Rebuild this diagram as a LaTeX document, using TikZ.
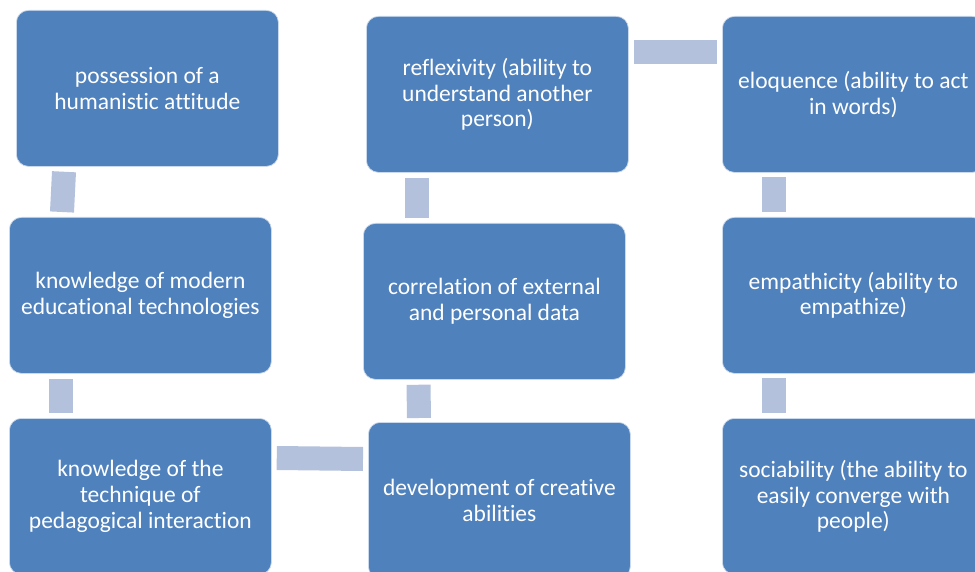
\documentclass[tikz,border=0pt]{standalone}
\usepackage{fontspec}
\setmainfont{Carlito}[Ligatures={NoCommon,NoRare}]
\definecolor{boxblue}{HTML}{4F81BD}
\definecolor{barblue}{HTML}{B3C1DC}
\begin{document}
\begin{tikzpicture}[x=1bp,y=-1bp,
	skill/.style={rectangle,rounded corners=12bp,fill=boxblue,draw=white!70!boxblue,line width=0.75bp,
		text=white,anchor=north west,minimum width=262bp,minimum height=156bp,inner sep=0pt,
		align=center,font=\fontsize{23.5bp}{25.6bp}\selectfont},
	link/.style={draw=barblue,line width=24bp}]%KỸ NĂNG
			\useasboundingbox (0,0) rectangle (975,572);
			\clip (0,0) rectangle (975,572);
			\node[skill] (A) at (16,10) {possession of a\\humanistic attitude};
			\node[skill] (B) at (9,217) {knowledge of modern\\educational technologies};
			\node[skill] (C) at (9,418) {knowledge of the\\technique of\\pedagogical interaction};
			\node[skill] (D) at (368,422) {development of creative\\abilities};
			\node[skill] (E) at (363,223) {correlation of external\\and personal data};
			\node[skill] (F) at (366,16) {reflexivity (ability to\\understand another\\person)};
			\node[skill] (G) at (722,16) {eloquence (ability to act\\in words)};
			\node[skill] (H) at (722,217) {empathicity (ability to\\empathize)};
			\node[skill] (I) at (722,418) {sociability (the ability to\\easily converge with\\people)};
			\draw[link] ([shift={(48,5)}]A.south west)--([shift={(53,-5)}]B.north west);
			\draw[link] ([shift={(52,5)}]B.south west)--([shift={(52,-5)}]C.north west);
			\draw[link] ([shift={(5,40)}]C.north east)--([shift={(-5,37)}]D.north west);
			\draw[link] ([shift={(51,-4)}]D.north west)--([shift={(55.5,5)}]E.south west);
			\draw[link] ([shift={(53.5,-5)}]E.north west)--([shift={(50.5,5)}]F.south west);
			\draw[link] ([shift={(5,36.5)}]F.north east)--([shift={(-5,36.5)}]G.north west);
			\draw[link] ([shift={(52,4)}]G.south west)--([shift={(52,-5)}]H.north west);
			\draw[link] ([shift={(52,4)}]H.south west)--([shift={(52,-5)}]I.north west);
\end{tikzpicture}
\end{document}
